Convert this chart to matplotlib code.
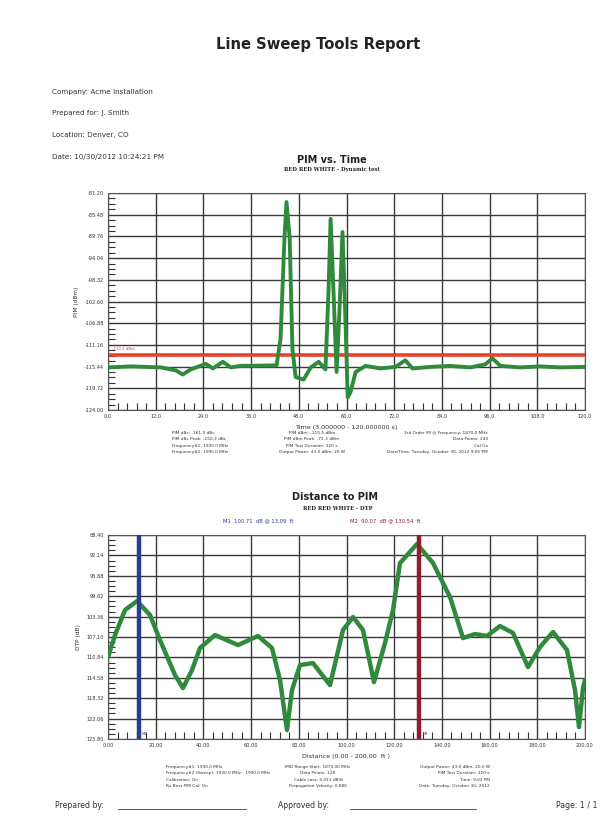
import numpy as np
import matplotlib.pyplot as plt
from matplotlib.ticker import AutoMinorLocator

# ---- data: PIM vs. Time ----
time_s = [0.0, 5.8, 13.3, 17.1, 18.8, 20.8, 24.6, 26.4, 28.9, 30.9, 33.4, 42.4,
          43.4, 44.4, 44.9, 45.7, 46.4, 47.2, 49.2, 51.0, 53.0, 54.7, 55.5, 56.0,
          56.7, 57.5, 58.2, 59.0, 59.8, 60.3, 61.0, 62.3, 64.8, 68.5, 72.3, 74.8,
          76.6, 81.1, 86.1, 91.1, 94.9, 96.7, 98.7, 103.7, 108.7, 113.7, 120.0]
pim_dbm = [-115.6, -115.4, -115.6, -116.2, -117.0, -116.0, -114.9, -115.8, -114.5,
           -115.6, -115.3, -115.2, -110.0, -90.0, -83.0, -90.0, -112.0, -117.5,
           -118.0, -115.6, -114.5, -116.0, -100.0, -86.3, -100.0, -116.5, -105.0,
           -88.9, -108.0, -121.5, -120.5, -116.5, -115.3, -115.8, -115.5, -114.2,
           -115.8, -115.5, -115.3, -115.6, -115.0, -113.8, -115.3, -115.6, -115.4,
           -115.6, -115.5]
pim_limit = -113.2
pim_ylim = (-124.00, -81.20)

# ---- data: Distance to PIM ----
dist_ft = [0.00, 2.94, 7.13, 12.16, 17.61, 21.80, 28.09, 31.45, 35.22, 38.57, 44.86,
           54.51, 62.89, 68.76, 72.12, 75.05, 77.15, 80.50, 85.95, 93.08, 98.53,
           102.73, 106.92, 111.53, 116.14, 119.50, 122.43, 129.56, 136.27, 143.40,
           148.85, 153.88, 158.91, 164.36, 169.81, 176.10, 181.13, 186.58, 192.45,
           195.81, 197.48, 199.16, 200.00]
dtp_db = [110.77, 106.74, 102.16, 100.50, 103.07, 107.66, 114.08, 116.46, 113.16,
          109.12, 106.74, 108.57, 106.92, 109.12, 115.00, 124.16, 116.83, 112.24,
          111.88, 115.91, 105.82, 103.44, 105.82, 115.36, 108.21, 102.16, 93.54,
          90.05, 93.54, 99.77, 107.29, 106.56, 106.92, 105.09, 106.37, 112.61,
          108.94, 106.19, 109.49, 116.83, 123.61, 116.46, 115.00]
markers = [("M1", 13.09, 100.71, "#2b3d8f"), ("M2", 130.54, 90.07, "#8e1f2f")]
dtp_ylim = (125.80, 88.40)

info_lines = ["Company: Acme Installation", "Prepared for: J. Smith",
              "Location: Denver, CO", "Date: 10/30/2012 10:24:21 PM"]

pim_info = [
    ["PIM dBc: -161.5 dBc", "PIM dBc Peak: -150.3 dBc",
     "Frequency#1: 1930.0 MHz", "Frequency#2: 1990.0 MHz"],
    ["PIM dBm: -115.5 dBm", "PIM dBm Peak: -72.3 dBm",
     "PIM Test Duration: 120 s", "Output Power: 43.0 dBm, 20 W"],
    ["3rd Order IM @ Frequency: 1870.0 MHz", "Data Points: 240",
     "Cal On", "Date/Time: Tuesday, October 30, 2012 9:05 PM"],
]
dtp_info = [
    ["Frequency#1: 1930.0 MHz", "Frequency#2 (Sweep): 1930.0 MHz - 1990.0 MHz",
     "Calibration: On", "Rx Best PIM Cal: On"],
    ["IMD Range Start: 1870.00 MHz", "Data Points: 128",
     "Cable Loss: 0.011 dB/ft", "Propagation Velocity: 0.880"],
    ["Output Power: 43.0 dBm, 20.0 W", "PIM Test Duration: 120 s",
     "Time: 9:02 PM", "Date: Tuesday, October 30, 2012"],
]

W, H = 604, 823
fig = plt.figure(figsize=(W / 100, H / 100), dpi=100)
fig.patch.set_facecolor("white")


def fx(px):
    return px / W


def fy(py):
    return 1 - py / H


grid_col = "#3a3a3a"
green = "#2f8a3c"
tick_fs = 3.6


def style_axes(ax):
    ax.grid(True, which="major", color=grid_col, lw=1.0)
    ax.tick_params(which="both", direction="in", labelsize=tick_fs, colors="#333333",
                   top=False, right=False)
    ax.tick_params(which="major", length=0, pad=3)
    ax.tick_params(which="minor", length=5, width=0.8)
    ax.xaxis.set_minor_locator(AutoMinorLocator(5))
    ax.yaxis.set_minor_locator(AutoMinorLocator(4))
    for s in ax.spines.values():
        s.set_color("#555555")
        s.set_linewidth(0.8)


# header
fig.text(fx(318), fy(45), "Line Sweep Tools Report", ha="center", va="center",
         fontsize=10.6, fontweight="bold", color="#222222")
for i, line in enumerate(info_lines):
    fig.text(fx(52), fy(92 + i * 21.5), line, ha="left", va="center",
             fontsize=5.2, color="#333333")

# ---- top chart ----
ax1 = fig.add_axes([fx(108), fy(410), fx(585) - fx(108), fy(193) - fy(410)])
ax1.plot(time_s, pim_dbm, color=green, lw=2.8, solid_joinstyle="round", zorder=3)
ax1.axhline(pim_limit, color="#e8412c", lw=2.6, zorder=2)
ax1.text(1.0, pim_limit + 0.8, "-113.2 dBm", color="#e8412c", fontsize=2.8,
         ha="left", va="bottom")
ax1.set_xlim(0, 120)
ax1.set_ylim(*pim_ylim)
ax1.set_xticks(np.linspace(0, 120, 11))
ax1.set_yticks(np.linspace(pim_ylim[0], pim_ylim[1], 11))
ax1.xaxis.set_major_formatter(lambda v, p: f"{v:.1f}")
ax1.yaxis.set_major_formatter(lambda v, p: f"{v:.2f}")
style_axes(ax1)
ax1.set_ylabel("PIM (dBm)", fontsize=4.2, labelpad=4, color="#333333")
ax1.set_xlabel("Time (3.000000 - 120.000000 s)", fontsize=4.6, labelpad=4,
               color="#333333")
fig.text(fx(332), fy(160), "PIM vs. Time", ha="center", va="center",
         fontsize=7, fontweight="bold", color="#222222")
fig.text(fx(332), fy(170), "RED RED WHITE - Dynamic test", ha="center", va="center",
         fontsize=3.8, fontweight="bold", family="serif", color="#222222")

col_x = [(fx(172), "left"), (fx(312), "center"), (fx(488), "right")]
for (x, ha), rows in zip(col_x, pim_info):
    for j, t in enumerate(rows):
        fig.text(x, fy(433 + j * 6.3), t, ha=ha, va="center", fontsize=3.1,
                 color="#333333")

# ---- bottom chart ----
ax2 = fig.add_axes([fx(108), fy(739), fx(585) - fx(108), fy(535) - fy(739)])
ax2.plot(dist_ft, dtp_db, color=green, lw=3.2, solid_joinstyle="round",
         solid_capstyle="round", zorder=3)
for name, d, v, c in markers:
    ax2.axvline(d, color=c, lw=3.2, zorder=4)
    ax2.text(d + 1.2, dtp_ylim[0] - 0.6, name, color=c, fontsize=2.6,
             ha="left", va="bottom", zorder=5)
ax2.set_xlim(0, 200)
ax2.set_ylim(*dtp_ylim)
ax2.set_xticks(np.linspace(0, 200, 11))
ax2.set_yticks(np.linspace(dtp_ylim[1], dtp_ylim[0], 11))
ax2.xaxis.set_major_formatter(lambda v, p: f"{v:.2f}")
ax2.yaxis.set_major_formatter(lambda v, p: f"{v:.2f}")
style_axes(ax2)
ax2.set_ylabel("DTP (dB)", fontsize=4.2, labelpad=4, color="#333333")
ax2.set_xlabel("Distance (0.00 - 200.00  ft )", fontsize=4.6, labelpad=4,
               color="#333333")
fig.text(fx(335), fy(497), "Distance to PIM", ha="center", va="center",
         fontsize=7, fontweight="bold", color="#222222")
fig.text(fx(338), fy(509), "RED RED WHITE - DTP", ha="center", va="center",
         fontsize=3.8, fontweight="bold", family="serif", color="#222222")
fig.text(fx(258), fy(521), f"M1  {markers[0][2]:.2f}  dB @ {markers[0][1]:.2f}  ft",
         ha="center", va="center", fontsize=3.8, color=markers[0][3])
fig.text(fx(385), fy(521), f"M2  {markers[1][2]:.2f}  dB @ {markers[1][1]:.2f}  ft",
         ha="center", va="center", fontsize=3.8, color=markers[1][3])

col_x2 = [(fx(166), "left"), (fx(318), "center"), (fx(490), "right")]
for (x, ha), rows in zip(col_x2, dtp_info):
    for j, t in enumerate(rows):
        fig.text(x, fy(767 + j * 6.3), t, ha=ha, va="center", fontsize=3.1,
                 color="#333333")

# footer
fig.text(fx(55), fy(806), "Prepared by: ", ha="left", va="center", fontsize=5.6,
         color="#333333")
fig.add_artist(plt.Line2D([fx(118), fx(246)], [fy(809), fy(809)], color="#555555",
                          lw=0.7))
fig.text(fx(278), fy(806), "Approved by: ", ha="left", va="center", fontsize=5.6,
         color="#333333")
fig.add_artist(plt.Line2D([fx(350), fx(476)], [fy(809), fy(809)], color="#555555",
                          lw=0.7))
fig.text(fx(598), fy(806), "Page: 1 / 1", ha="right", va="center", fontsize=5.6,
         color="#333333")

fig.savefig("out.png", dpi=100)
